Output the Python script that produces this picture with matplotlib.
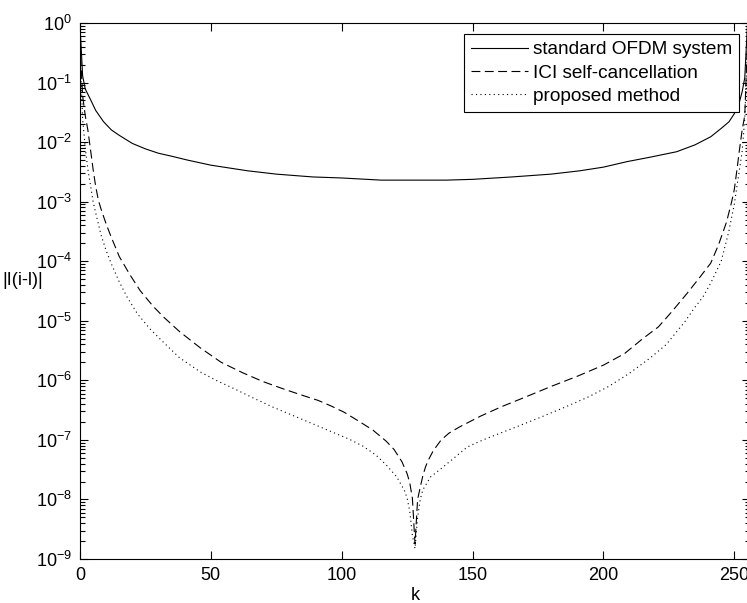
import matplotlib
matplotlib.use('Agg')
import matplotlib.pyplot as plt
from matplotlib.ticker import LogLocator, FixedLocator, NullFormatter

plt.rcParams['font.family'] = ['Liberation Sans', 'DejaVu Sans']
plt.rcParams['mathtext.default'] = 'regular'

# values
k_std = [0, 1, 2, 4, 6, 9, 12, 15, 20, 25, 30, 35, 41, 50, 64, 75, 89, 100, 115,
         128, 140, 150, 165, 180, 191, 200, 209, 218, 228, 235, 241, 245, 248,
         250, 251, 252, 253, 254, 255]
std_ofdm = [0.93, 0.13, 0.078, 0.052, 0.034, 0.022, 0.016, 0.013, 0.0095, 0.0077,
            0.0065, 0.0058, 0.0050, 0.0041, 0.0033, 0.0029, 0.0026, 0.0025, 0.0023,
            0.0023, 0.0023, 0.00237, 0.0026, 0.0029, 0.0033, 0.0038, 0.0047, 0.0056,
            0.0069, 0.0090, 0.0123, 0.017, 0.022, 0.030, 0.037, 0.048, 0.07, 0.12, 0.9]

k_sc = [0, 1, 2, 3, 4, 5, 6, 7, 8, 10, 12, 15, 19, 23, 28, 32, 38, 46, 54, 62, 70,
        78, 85, 91, 96, 101, 107, 112, 117, 120, 123, 125, 126, 127, 128, 129, 130,
        131, 132, 133, 135, 138, 141, 145, 153, 161, 170, 180, 190, 200, 208, 215,
        221, 226, 232, 237, 241, 244, 247, 249, 250, 251, 252, 253, 254, 255]
ici_sc = [0.45, 0.06, 0.028, 0.016, 7.6e-3, 3.5e-3, 1.8e-3, 1.07e-3, 7.6e-4, 4.2e-4,
          2.5e-4, 1.2e-4, 6.0e-5, 3.2e-5, 1.74e-5, 1.15e-5, 6.6e-6, 3.5e-6, 2.0e-6,
          1.35e-6, 9.5e-7, 7.1e-7, 5.6e-7, 4.6e-7, 3.7e-7, 2.9e-7, 2.0e-7, 1.45e-7,
          9.5e-8, 6.9e-8, 4.3e-8, 2.7e-8, 1.9e-8, 1.05e-8, 1.8e-9, 1.0e-8, 1.6e-8,
          2.5e-8, 3.5e-8, 4.5e-8, 6.6e-8, 1.0e-7, 1.3e-7, 1.65e-7, 2.5e-7, 3.6e-7,
          5.2e-7, 7.9e-7, 1.17e-6, 1.8e-6, 2.8e-6, 5.0e-6, 7.9e-6, 1.4e-5, 2.9e-5,
          5.5e-5, 9.3e-5, 1.9e-4, 4.5e-4, 1.0e-3, 1.6e-3, 3.4e-3, 7.6e-3, 0.016,
          0.028, 0.45]

k_prop = [0, 1, 2, 3, 4, 5, 6, 8, 10, 12, 15, 18, 22, 27, 32, 38, 46, 52, 59, 66, 74,
          82, 90, 97, 103, 108, 113, 117, 121, 124, 125, 126, 127, 128, 129, 130, 131,
          134, 138, 143, 148, 154, 161, 168, 176, 185, 194, 202, 210, 218, 224, 231,
          235, 238, 241, 245, 247, 248, 249, 250, 251, 252, 253, 254, 255]
proposed = [0.35, 0.025, 8e-3, 3.5e-3, 1.9e-3, 1.0e-3, 6.5e-4, 2.8e-4, 1.5e-4, 9e-5,
            4.5e-5, 2.5e-5, 1.3e-5, 7.1e-6, 4.3e-6, 2.4e-6, 1.38e-6, 1.0e-6, 7.2e-7,
            5.1e-7, 3.5e-7, 2.5e-7, 1.78e-7, 1.32e-7, 1.02e-7, 7.9e-8, 5.6e-8, 3.8e-8,
            2.4e-8, 1.4e-8, 1.05e-8, 6.3e-9, 2.5e-9, 1.5e-9, 5.0e-9, 1.0e-8, 1.45e-8,
            2.4e-8, 3.3e-8, 5.0e-8, 7.6e-8, 1.0e-7, 1.32e-7, 1.74e-7, 2.4e-7, 3.5e-7,
            5.2e-7, 7.9e-7, 1.32e-6, 2.4e-6, 4.0e-6, 9.5e-6, 1.7e-5, 2.5e-5, 4.3e-5,
            1.0e-4, 2.2e-4, 3.3e-4, 5.5e-4, 9e-4, 1.8e-3, 3.5e-3, 7e-3, 0.025, 0.35]

labels = ['standard OFDM system', 'ICI self-cancellation', 'proposed method']
xticks = [0, 50, 100, 150, 200, 250]

fig = plt.figure(figsize=(7.47, 6.03), dpi=100)
ax = fig.add_axes([80 / 747, 44 / 603, 670 / 747, 536 / 603])

ax.plot(k_std, std_ofdm, color='black', lw=0.8, ls='-', label=labels[0])
ax.plot(k_sc, ici_sc, color='black', lw=0.8, ls=(0, (8, 4)), label=labels[1])
ax.plot(k_prop, proposed, color='black', lw=0.8, ls=(0, (1, 3)), label=labels[2])

ax.set_yscale('log')
ax.set_xlim(0, 256)
ax.set_ylim(1e-9, 1e0)
ax.xaxis.set_major_locator(FixedLocator(xticks))
ax.yaxis.set_major_locator(LogLocator(base=10, numticks=20))
ax.yaxis.set_minor_locator(LogLocator(base=10, subs=range(2, 10), numticks=20))
ax.yaxis.set_minor_formatter(NullFormatter())

ax.tick_params(which='both', direction='in', top=True, right=True,
               labelsize=13, width=0.8)
ax.tick_params(which='major', length=6)
ax.tick_params(which='minor', length=3.5)
ax.tick_params(axis='y', pad=6)
ax.tick_params(axis='x', pad=6)
for s in ax.spines.values():
    s.set_linewidth(0.8)

ax.set_xlabel('k', fontsize=13, labelpad=2)
ax.set_ylabel('|I(i-l)|', fontsize=13, rotation=0, ha='left', va='center')
ax.yaxis.set_label_coords(-0.116, 0.52)

leg = ax.legend(loc='upper right', bbox_to_anchor=(0.984, 0.979), borderaxespad=0,
                fontsize=13.7, fancybox=False, edgecolor='black', framealpha=1,
                handlelength=3.0, handletextpad=0.27, labelspacing=0.32,
                borderpad=0.35)
leg.get_frame().set_linewidth(0.8)

fig.savefig('out.png', dpi=100)
